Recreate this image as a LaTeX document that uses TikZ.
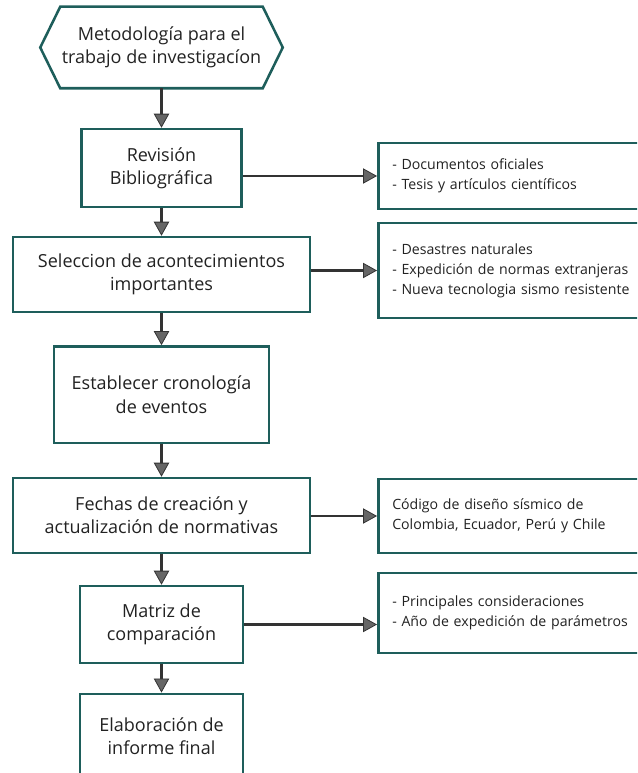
\documentclass[tikz,border=0pt]{standalone}
\usepackage{fontspec}
\setmainfont{Open Sans}
\usetikzlibrary{arrows.meta,calc}
\definecolor{marco}{RGB}{30,94,91}
\definecolor{texto}{RGB}{34,34,34}
\definecolor{linea}{RGB}{51,51,51}
\definecolor{punta}{RGB}{102,102,102}
\begin{document}
\begin{tikzpicture}[x=0.75pt,y=-0.75pt,
  caja/.style={draw=marco,line width=1.9pt,fill=white,align=center,text=texto,font=\fontsize{13.5}{17.4}\selectfont,inner sep=0pt},
  nota/.style={draw=marco,line width=1.9pt,fill=white,align=left,text=texto,font=\fontsize{10.6}{15}\selectfont,anchor=west,text width=187.5pt,inner xsep=10.5pt,inner ysep=0pt},
  flecha/.style={draw=linea,line width=1.7pt,-{Triangle[length=10.5pt,width=11.5pt,fill=punta,line width=0.6pt]}}]

\useasboundingbox (0,0) rectangle (637,773);
\clip (0,0) rectangle (637,773);

% ---------- Inicio ----------
\node (met) [text=texto,align=center,minimum width=181.5pt,minimum height=60.75pt,inner sep=0pt,font=\fontsize{13.5}{17.4}\selectfont] at (161.5,47.5) {Metodología para el\\trabajo de investigacíon};
\draw[draw=marco,line width=1.9pt,line join=miter]
  (met.west) -- ($(met.north west)+(20,0)$) -- ($(met.north east)+(-20,0)$)
  -- (met.east) -- ($(met.south east)+(-20,0)$) -- ($(met.south west)+(20,0)$) -- cycle;

% ---------- Pasos ----------
\node (rev) [caja,minimum width=120pt,minimum height=58.5pt] at (161.5,168) {Revisión\\Bibliográfica};
\node (sel) [caja,minimum width=222.75pt,minimum height=56.25pt] at (161.5,274.5) {Seleccion de acontecimientos\\importantes};
\node (est) [caja,minimum width=161.25pt,minimum height=72.4pt] at (161.5,394.7) {Establecer cronología\\de eventos};
\node (fec) [caja,minimum width=222.75pt,minimum height=56.25pt] at (161.5,515.5) {Fechas de creación y\\actualización de normativas};
\node (mat) [caja,minimum width=122.25pt,minimum height=57.75pt] at (161.5,624.5) {Matriz de\\comparación};
\node (ela) [caja,minimum width=122.25pt,minimum height=64pt] at (161.5,736.5) {Elaboración de\\informe final};

% ---------- Notas ----------
\node (doc) [nota,minimum height=49.5pt] at (377,176) {- Documentos oficiales\\- Tesis y artículos científicos};
\node (des) [nota,minimum height=71.25pt] at (377,270.5) {- Desastres naturales\\- Expedición de normas extranjeras\\- Nueva tecnologia sismo resistente};
\node (cod) [nota,minimum height=55.5pt] at (377,516) {Código de diseño sísmico de\\Colombia, Ecuador, Perú y Chile};
\node (par) [nota,minimum height=60pt] at (377,613) {- Principales consideraciones\\- Año de expedición de parámetros};

% ---------- Flechas ----------
\draw[flecha] (met.south) -- (rev.north);
\draw[flecha] (rev.south) -- (sel.north);
\draw[flecha] (sel.south) -- (est.north);
\draw[flecha] (est.south) -- (fec.north);
\draw[flecha] (fec.south) -- (mat.north);
\draw[flecha] (mat.south) -- (ela.north);

\draw[flecha] (rev.east |- doc.west) -- (doc.west);
\draw[flecha] (sel.east |- des.west) -- (des.west);
\draw[flecha] (fec.east |- cod.west) -- (cod.west);
\draw[flecha] (mat.east) -- (mat.east -| par.west);

\end{tikzpicture}
\end{document}
